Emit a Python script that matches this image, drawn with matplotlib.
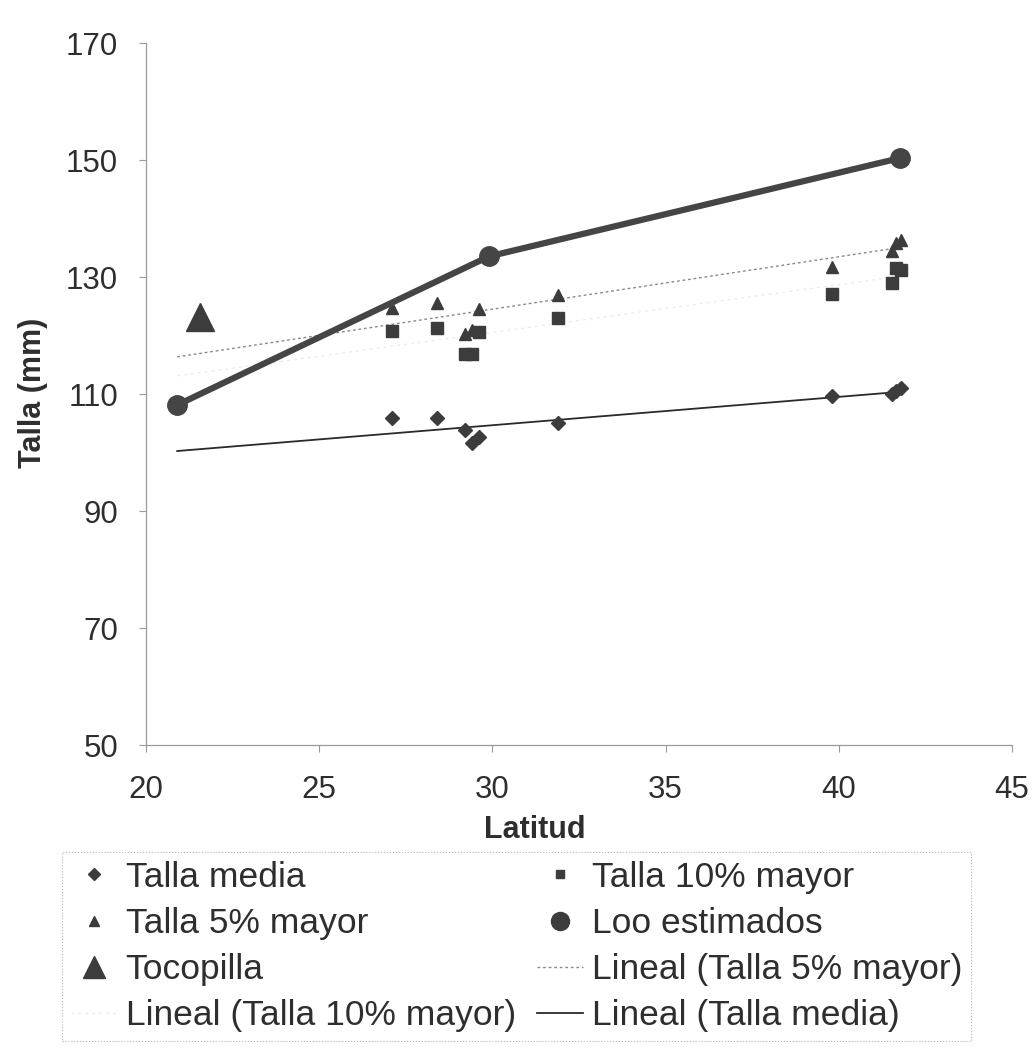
import numpy as np
import matplotlib
matplotlib.use("Agg")
import matplotlib.pyplot as plt
from matplotlib.lines import Line2D

plt.rcParams['font.family'] = ['Liberation Sans', 'DejaVu Sans']

# latitudes of the sampling sites (shared by the three size series)
latitud = [27.1, 28.4, 29.2, 29.4, 29.6, 31.9, 39.8, 41.55, 41.64, 41.79]
talla_media = [106.0, 106.0, 103.9, 101.7, 102.8, 105.1, 109.7, 110.1, 110.6, 111.1]
talla_5 = [124.7, 125.7, 120.3, 121.0, 124.6, 127.0, 131.8, 134.6, 135.9, 136.4]
talla_10 = [120.9, 121.4, 117.0, 116.9, 120.7, 123.0, 127.2, 129.1, 131.6, 131.3]

loo_lat = [20.9, 29.9, 41.76]
loo_val = [108.2, 133.6, 150.4]

toco_lat = [21.55]
toco_val = [123.2]

x_ticks = [20, 25, 30, 35, 40, 45]
y_ticks = [50, 70, 90, 110, 130, 150, 170]

DARK = '#3c3c3c'
TXT = '#2e2e2e'


def trend(x, y, x0, x1):
    a, b = np.polyfit(x, y, 1)
    xs = np.array([x0, x1])
    return xs, a * xs + b


fig = plt.figure(figsize=(10.34, 10.48), dpi=100)
ax = fig.add_axes([0.1412, 0.2887, 0.8375, 0.6698])

x0, x1 = loo_lat[0], max(latitud)

xs, ys = trend(latitud, talla_5, x0, x1)
l5, = ax.plot(xs, ys, color='#8a8a8a', lw=1.0, ls=(0, (2, 2)), zorder=2)
xs, ys = trend(latitud, talla_10, x0, x1)
l10, = ax.plot(xs, ys, color='#ececec', lw=1.0, ls=(0, (2, 3)), zorder=2)
xs, ys = trend(latitud, talla_media, x0, x1)
lm, = ax.plot(xs, ys, color='#2a2a2a', lw=1.3, zorder=2)

h_media, = ax.plot(latitud, talla_media, ls='none', marker='D', ms=7,
                   color=DARK, zorder=3)
h_10, = ax.plot(latitud, talla_10, ls='none', marker='s', ms=8,
                color=DARK, zorder=3)
h_5, = ax.plot(latitud, talla_5, ls='none', marker='^', ms=9,
               color=DARK, zorder=3)
h_loo, = ax.plot(loo_lat, loo_val, color='#454545', lw=4.5, marker='o',
                 ms=14, zorder=4)
h_toco, = ax.plot(toco_lat, toco_val, ls='none', marker='^', ms=20,
                  color=DARK, zorder=4)

ax.set_xlim(20, 45)
ax.set_ylim(50, 170)
ax.set_xticks(x_ticks)
ax.set_yticks(y_ticks)

for side in ['top', 'right']:
    ax.spines[side].set_visible(False)
for side in ['left', 'bottom']:
    ax.spines[side].set_color('#9a9a9a')
    ax.spines[side].set_linewidth(0.9)

ax.tick_params(axis='both', direction='out', length=5, width=0.8,
               color='#9a9a9a', labelsize=22.5, labelcolor=TXT)
ax.tick_params(axis='x', pad=16)
ax.tick_params(axis='y', pad=15)

ax.set_xlabel('Latitud', fontsize=22, fontweight='bold', color=TXT)
ax.xaxis.set_label_coords(0.449, -0.099)
ax.set_ylabel('Talla (mm)', fontsize=22, fontweight='bold', color=TXT,
              ha='center', va='center')
ax.yaxis.set_label_coords(-0.131, 0.502)

# legend handles with small markers like the original
lg_media = Line2D([], [], ls='none', marker='D', ms=6, color=DARK)
lg_5 = Line2D([], [], ls='none', marker='^', ms=7, color=DARK)
lg_toco = Line2D([], [], ls='none', marker='^', ms=16, color=DARK)
lg_10 = Line2D([], [], ls='none', marker='s', ms=6, color=DARK)
lg_loo = Line2D([], [], ls='none', marker='o', ms=13, color=DARK)

handles = [lg_media, lg_5, lg_toco, l10, lg_10, lg_loo, l5, lm]
labels = ['Talla media', 'Talla 5% mayor', 'Tocopilla',
          'Lineal (Talla 10% mayor)', 'Talla 10% mayor', 'Loo estimados',
          'Lineal (Talla 5% mayor)', 'Lineal (Talla media)']

leg = fig.legend(handles, labels, ncol=2, loc='upper left',
                 bbox_to_anchor=(62 / 1034, 1 - 852 / 1048),
                 fontsize=25.5, frameon=True, fancybox=False,
                 borderaxespad=0, borderpad=0.25, labelspacing=0.37,
                 handlelength=1.3, handletextpad=0.25, columnspacing=0.6,
                 labelcolor=TXT)
frame = leg.get_frame()
frame.set_edgecolor('#a0a0a0')
frame.set_linewidth(0.8)
frame.set_linestyle(':')

fig.savefig('out.png', dpi=100, facecolor='white')
